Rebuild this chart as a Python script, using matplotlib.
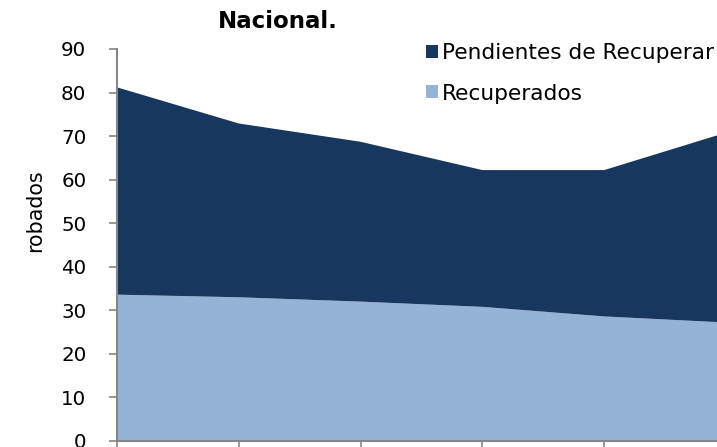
import matplotlib
matplotlib.use("Agg")
import matplotlib.pyplot as plt
import numpy as np

plt.rcParams['font.family'] = ['DejaVu Sans']

# valeurs (axe des x coupé dans l'original)
periodos = ['2006', '2007', '2008', '2009', '2010', '2011']
recuperados = [33.6, 33.0, 32.0, 30.8, 28.6, 27.2]
pendientes = [47.6, 39.9, 36.7, 31.4, 33.6, 43.6]

col_pend = '#17375E'
col_rec = '#95B3D7'
gris = '#868686'

fig = plt.figure(figsize=(7.17, 4.47), dpi=100)
# la zone de tracé déborde à droite et en bas, comme dans la capture
ax = fig.add_axes([117/717, 6/447, 609/717, 392/447])

x = np.arange(len(periodos))
ax.stackplot(x, recuperados, pendientes, colors=[col_rec, col_pend],
             labels=['Recuperados', 'Pendientes de Recuperar'], linewidth=0)

ax.set_xlim(0, len(periodos) - 1)
ax.set_ylim(0, 90)
ax.set_yticks(range(0, 91, 10))
ax.set_xticks(x)
ax.tick_params(axis='x', labelbottom=False, length=6, width=1.2, color=gris, direction='out')
ax.tick_params(axis='y', labelsize=14.3, length=6, width=1.2, color=gris, pad=16)
for s in ['top', 'right']:
    ax.spines[s].set_visible(False)
for s in ['left', 'bottom']:
    ax.spines[s].set_color(gris)
    ax.spines[s].set_linewidth(1.5)

fig.text(278/717, 1 - 21/447, 'Nacional.', ha='center', va='center',
         fontsize=16.5, fontweight='bold')
fig.text(35/717, 1 - 211/447, 'robados', rotation=90, ha='center', va='center',
         fontsize=14.8)

h, l = ax.get_legend_handles_labels()
fig.legend(h[::-1], l[::-1], loc='upper left', bbox_to_anchor=(426/717, 1 - 43/447),
           frameon=False, fontsize=15.6, handlelength=0.55, handleheight=0.55,
           handletextpad=0.2, labelspacing=0.95, borderaxespad=0, borderpad=0)

fig.savefig('out.png', dpi=100)
